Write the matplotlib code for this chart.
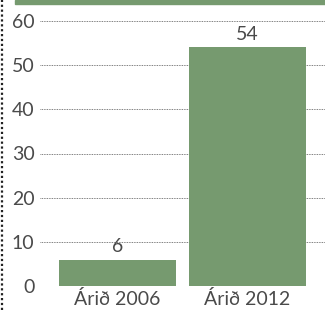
import matplotlib.pyplot as plt
from matplotlib.lines import Line2D
from matplotlib.patches import Rectangle

categories = ['Árið 2006', 'Árið 2012']
values = [6, 54]
yticks = [0, 10, 20, 30, 40, 50, 60]

green = '#769a6f'
grey = '#4a4a4a'

plt.rcParams['font.family'] = ['Lato', 'DejaVu Sans']

W, H = 325, 310
fig = plt.figure(figsize=(W / 100, H / 100), dpi=100)
ax = fig.add_axes([40 / W, (H - 286) / H, 285 / W, 265 / H])

x = range(len(categories))
ax.bar(x, values, width=0.9, color=green, zorder=2)
for xi, v in zip(x, values):
    ax.text(xi, v + 1.0, str(v), ha='center', va='bottom', fontsize=14, color=grey)

ax.set_xlim(-0.596, 1.596)
ax.set_ylim(0, 60)
ax.set_yticks(yticks)
ax.set_xticks(list(x))
ax.set_xticklabels(categories)
ax.tick_params(axis='both', length=0, labelsize=14, labelcolor=grey)
ax.tick_params(axis='y', pad=4)
ax.tick_params(axis='x', pad=3)
ax.grid(axis='y', linestyle=(0, (1, 1)), color='#555555', linewidth=0.6, zorder=0)
ax.set_axisbelow(True)
for s in ax.spines.values():
    s.set_visible(False)
ax.patch.set_alpha(0)

# header band and dotted left rule
fig.patches.append(Rectangle((15 / W, 1 - 4 / H), 1, 4 / H, transform=fig.transFigure,
                             color=green, zorder=0))
fig.lines.append(Line2D([2 / W, 2 / W], [0, 1], transform=fig.transFigure,
                        color='#222222', linewidth=1.6, linestyle=(0, (1, 1.2))))

fig.savefig('out.png', dpi=100)
